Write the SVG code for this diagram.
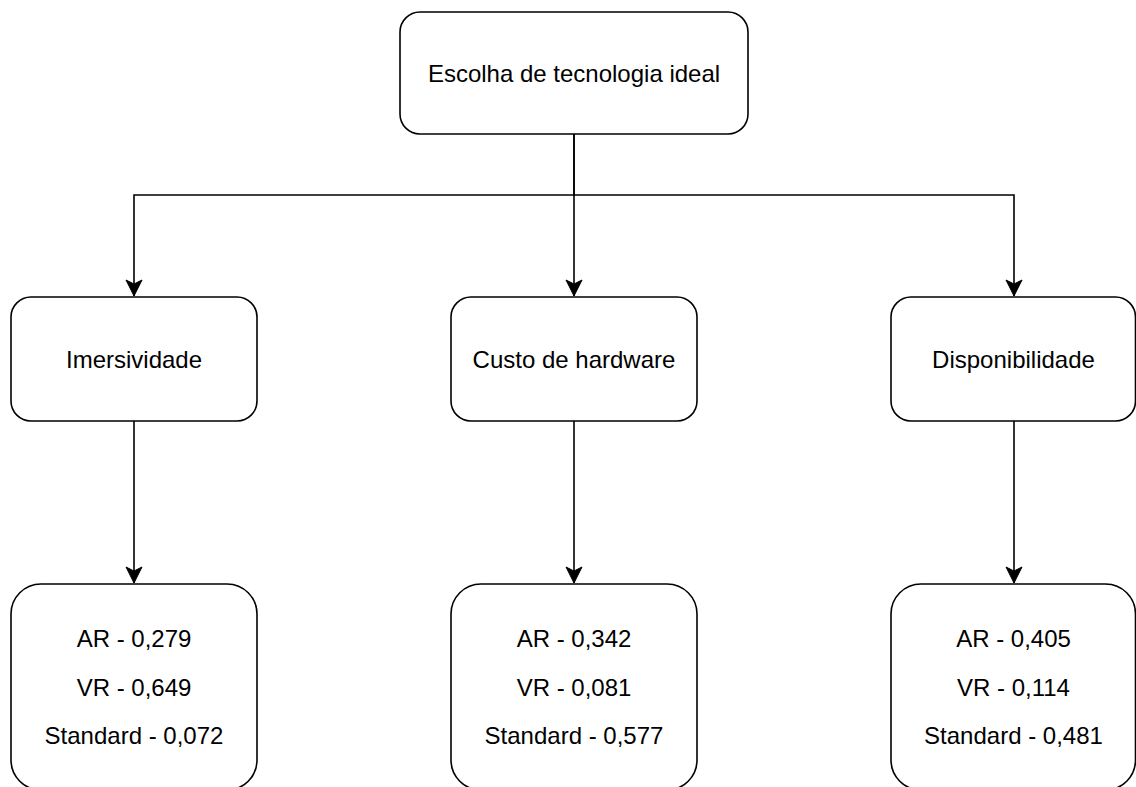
<svg xmlns="http://www.w3.org/2000/svg" width="1136" height="787" viewBox="0 0 1136 787">
<style>
.box{fill:#fff;stroke:#000;stroke-width:1.6}
.lbl{font-family:"Liberation Sans",Arial,sans-serif;font-size:24px;fill:#000;text-anchor:middle}
.edge{fill:none;stroke:#000;stroke-width:1.6}
</style>
<defs>
<marker id="arr" markerUnits="userSpaceOnUse" markerWidth="18" markerHeight="18" viewBox="0 0 18 18" refX="17" refY="9" orient="auto">
<path d="M1,1 L17,9 L1,17 L5,9 Z" fill="#000" stroke="#000" stroke-width="1"/>
</marker>
</defs>
<rect width="1136" height="787" fill="#fff"/>
<g id="connectors">
<path class="edge" d="M574,134 V195 H134 V296" marker-end="url(#arr)"/>
<path class="edge" d="M574,134 V296" marker-end="url(#arr)"/>
<path class="edge" d="M574,195 H1014 V296" marker-end="url(#arr)"/>
<path class="edge" d="M134,421 V583" marker-end="url(#arr)"/>
<path class="edge" d="M574,421 V583" marker-end="url(#arr)"/>
<path class="edge" d="M1014,421 V583" marker-end="url(#arr)"/>
</g>
<g id="root">
<rect class="box" x="400" y="12" width="348" height="122" rx="20"/>
<text class="lbl" x="574" y="81.5">Escolha de tecnologia ideal</text>
</g>
<g id="imersividade">
<rect class="box" x="11" y="297" width="246" height="124" rx="20"/>
<text class="lbl" x="134" y="368">Imersividade</text>
</g>
<g id="custo">
<rect class="box" x="451" y="297" width="246" height="124" rx="20"/>
<text class="lbl" x="574" y="368">Custo de hardware</text>
</g>
<g id="disponibilidade">
<rect class="box" x="891" y="297" width="244.5" height="124" rx="20"/>
<text class="lbl" x="1013.5" y="368">Disponibilidade</text>
</g>
<g id="res-imersividade">
<rect class="box" x="11" y="584" width="246" height="206" rx="30"/>
<text class="lbl" x="134" y="647">AR - 0,279</text>
<text class="lbl" x="134" y="696">VR - 0,649</text>
<text class="lbl" x="134" y="744">Standard - 0,072</text>
</g>
<g id="res-custo">
<rect class="box" x="451" y="584" width="246" height="206" rx="30"/>
<text class="lbl" x="574" y="647">AR - 0,342</text>
<text class="lbl" x="574" y="696">VR - 0,081</text>
<text class="lbl" x="574" y="744">Standard - 0,577</text>
</g>
<g id="res-disponibilidade">
<rect class="box" x="891" y="584" width="244.5" height="206" rx="30"/>
<text class="lbl" x="1013.5" y="647">AR - 0,405</text>
<text class="lbl" x="1013.5" y="696">VR - 0,114</text>
<text class="lbl" x="1013.5" y="744">Standard - 0,481</text>
</g>
</svg>
